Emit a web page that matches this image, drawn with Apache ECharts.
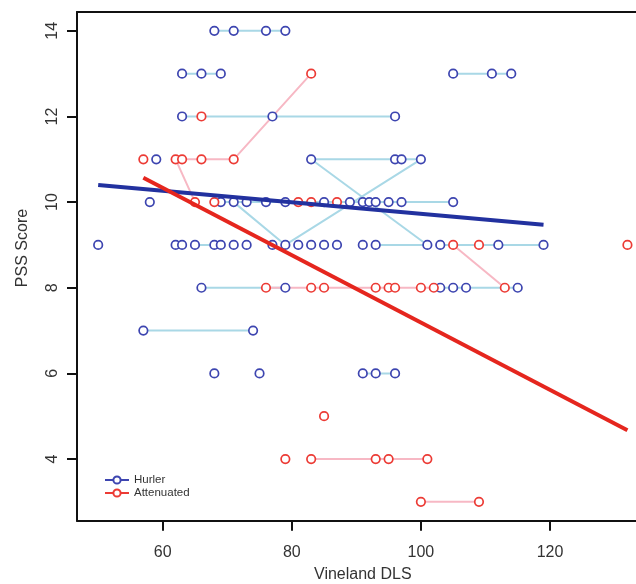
<!DOCTYPE html>
<html>
<head>
<meta charset="utf-8">
<script src="https://cdn.jsdelivr.net/npm/echarts@6/dist/echarts.min.js"></script>
<style>
html,body{margin:0;padding:0;background:#fff;}
#chart{width:636px;height:584px;}
</style>
</head>
<body>
<div id="chart"></div>
<script>
// ---- data ----
const xTicks = [60, 80, 100, 120];
const yTicks = [4, 6, 8, 10, 12, 14];
const xRange = [46.72, 135.28];
const yRange = [2.56, 14.44];

const hurlerPoints = [
  [68,14],[71,14],[76,14],[79,14],
  [63,13],[66,13],[69,13],[105,13],[111,13],[114,13],
  [63,12],[77,12],[96,12],
  [59,11],[83,11],[96,11],[97,11],[100,11],
  [58,10],[69,10],[71,10],[73,10],[76,10],[79,10],[85,10],[89,10],[91,10],[92,10],[93,10],[95,10],[97,10],[105,10],
  [50,9],[62,9],[63,9],[65,9],[68,9],[69,9],[71,9],[73,9],[77,9],[79,9],[81,9],[83,9],[85,9],[87,9],[91,9],[93,9],[101,9],[103,9],[112,9],[119,9],
  [66,8],[79,8],[103,8],[105,8],[107,8],[115,8],
  [57,7],[74,7],
  [68,6],[75,6],[91,6],[93,6],[96,6]
];

const attenuatedPoints = [
  [83,13],
  [66,12],
  [57,11],[62,11],[63,11],[66,11],[71,11],
  [65,10],[68,10],[81,10],[83,10],[87,10],
  [105,9],[109,9],[132,9],
  [76,8],[83,8],[85,8],[93,8],[95,8],[96,8],[100,8],[102,8],[113,8],
  [85,5],
  [79,4],[83,4],[93,4],[95,4],[101,4],
  [100,3],[109,3]
];

const hurlerPaths = [
  [[68,14],[71,14],[76,14],[79,14]],
  [[63,13],[66,13],[69,13]],
  [[105,13],[111,13],[114,13]],
  [[63,12],[77,12],[96,12]],
  [[83,11],[96,11],[97,11],[100,11]],
  [[83,11],[101,9]],
  [[71,10],[79,9],[100,11]],
  [[69,10],[71,10],[73,10],[76,10],[79,10],[85,10],[89,10],[91,10],[92,10],[93,10],[95,10],[97,10],[105,10]],
  [[65,9],[68,9]],
  [[93,9],[101,9]],
  [[103,9],[112,9],[119,9]],
  [[66,8],[79,8]],
  [[103,8],[105,8],[107,8],[115,8]],
  [[57,7],[74,7]],
  [[91,6],[93,6],[96,6]]
];

const attenuatedPaths = [
  [[63,11],[66,11],[71,11],[83,13]],
  [[62,11],[65,10]],
  [[105,9],[113,8]],
  [[76,8],[83,8],[85,8],[93,8],[95,8],[96,8],[100,8],[102,8]],
  [[83,4],[93,4],[95,4],[101,4]],
  [[100,3],[109,3]]
];

const hurlerFit = [[50,10.40],[119,9.47]];
const attenuatedFit = [[57,10.57],[132,4.67]];

// ---- styles ----
const BLUE = '#3d45b0', LIGHTBLUE = '#a9d8e6', RED = '#ec3b35', PINK = '#f7b8c4';
const BLUEFIT = '#22319f', REDFIT = '#e5261e';
const FONT = 'Liberation Sans, Arial, Helvetica, sans-serif';

const series = [];
series.push({name:'Hurler', type:'line', data:[], symbol:'emptyCircle', symbolSize:7,
  itemStyle:{color:BLUE}, lineStyle:{color:BLUE, width:2}});
series.push({name:'Attenuated', type:'line', data:[], symbol:'emptyCircle', symbolSize:7,
  itemStyle:{color:RED}, lineStyle:{color:RED, width:2}});

hurlerPaths.forEach((p,i) => series.push({
  name:'hp'+i, type:'line', data:p, symbol:'none', z:1, silent:true,
  lineStyle:{color:LIGHTBLUE, width:2}
}));
attenuatedPaths.forEach((p,i) => series.push({
  name:'ap'+i, type:'line', data:p, symbol:'none', z:1, silent:true,
  lineStyle:{color:PINK, width:2}
}));
series.push({name:'hPts', type:'scatter', data:hurlerPoints, symbol:'circle', symbolSize:8.5, z:2,
  itemStyle:{color:'#fff', borderColor:BLUE, borderWidth:1.7, opacity:1}});
series.push({name:'aPts', type:'scatter', data:attenuatedPoints, symbol:'circle', symbolSize:8.5, z:3,
  itemStyle:{color:'#fff', borderColor:RED, borderWidth:1.7, opacity:1}});
series.push({name:'hFit', type:'line', data:hurlerFit, symbol:'none', z:4,
  lineStyle:{color:BLUEFIT, width:4}});
series.push({name:'aFit', type:'line', data:attenuatedFit, symbol:'none', z:4,
  lineStyle:{color:REDFIT, width:4}});

const chart = echarts.init(document.getElementById('chart'), null, {renderer:'canvas'});
chart.setOption({
  animation:false,
  backgroundColor:'#fff',
  textStyle:{fontFamily:FONT},
  grid:{left:77, top:12, width:571.6, height:508.7, containLabel:false, outerBoundsMode:'none'},
  xAxis:[{
    type:'value', min:xRange[0], max:xRange[1], position:'bottom',
    splitLine:{show:false},
    axisLine:{show:true, onZero:false, lineStyle:{color:'#111', width:2}},
    axisTick:{show:true, length:10, lineStyle:{color:'#111', width:2}, customValues:xTicks},
    axisLabel:{show:true, customValues:xTicks, margin:24, fontSize:16, color:'#333', fontFamily:FONT},
    name:'Vineland DLS', nameLocation:'middle', nameGap:46,
    nameTextStyle:{fontSize:16, color:'#333', fontFamily:FONT}
  },{
    type:'value', min:xRange[0], max:xRange[1], position:'top',
    splitLine:{show:false},
    axisLine:{show:true, onZero:false, lineStyle:{color:'#111', width:2}},
    axisTick:{show:false}, axisLabel:{show:false}
  }],
  yAxis:{
    type:'value', min:yRange[0], max:yRange[1],
    splitLine:{show:false},
    axisLine:{show:true, onZero:false, lineStyle:{color:'#111', width:2}},
    axisTick:{show:true, length:10, lineStyle:{color:'#111', width:2}, customValues:yTicks},
    axisLabel:{show:true, customValues:yTicks, rotate:90, margin:16, fontSize:16, color:'#333', fontFamily:FONT}
  },
  legend:{
    data:['Hurler','Attenuated'], orient:'vertical', left:99, top:469,
    itemWidth:24, itemHeight:9, itemGap:1,
    textStyle:{fontSize:11.5, color:'#333', fontFamily:FONT}
  },
  graphic:[{
    type:'text', x:23, y:248, rotation:Math.PI/2,
    style:{text:'PSS Score', fontSize:16, fill:'#333', fontFamily:FONT, align:'center', verticalAlign:'middle'}
  }],
  series: series
});
</script>
</body>
</html>
